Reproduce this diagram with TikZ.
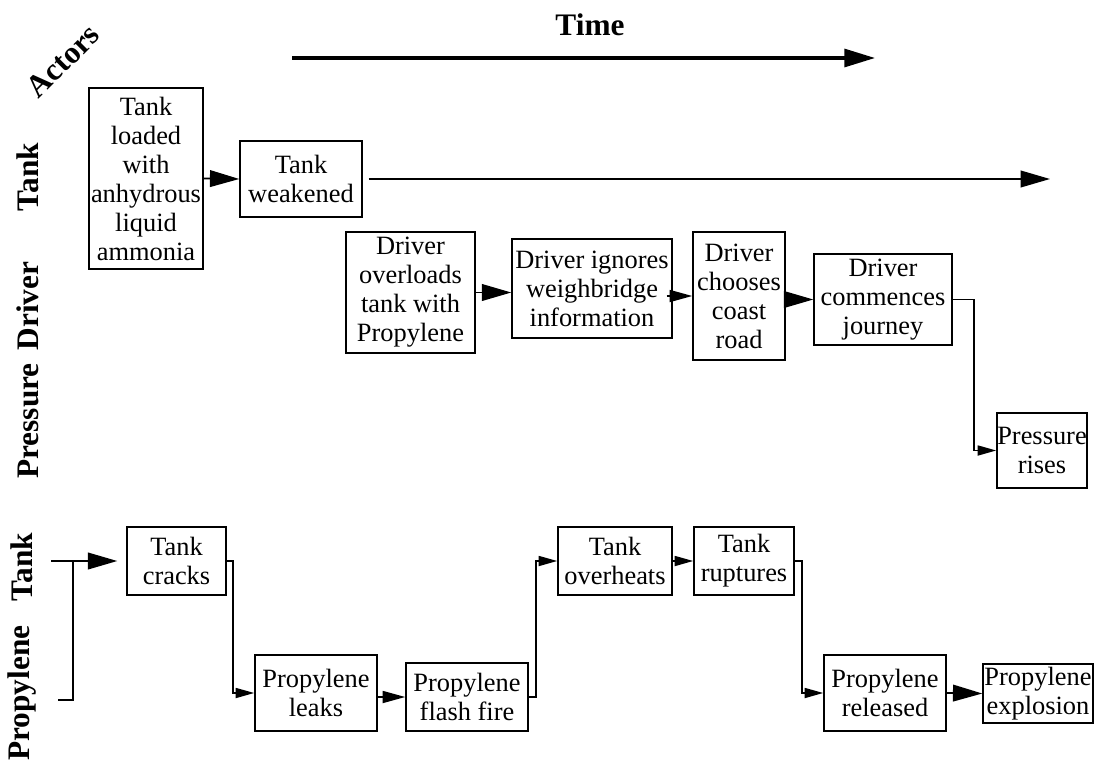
\documentclass[tikz,border=0pt]{standalone}
\usepackage{fontspec}
\setmainfont{Liberation Serif}
\usepackage{tikz}
\usetikzlibrary{arrows.meta,calc}

\begin{document}
\begin{tikzpicture}[x=0.75pt,y=-0.75pt,
    event/.style={draw, line width=1.1pt, inner sep=0pt, align=center,
        font=\fontsize{19.8}{21.75}\selectfont},
    actor/.style={font=\fontsize{23.5}{28}\selectfont\bfseries, inner sep=0pt},
    link/.style={line width=1.3pt},
    bigarrow/.style={link, -{Triangle[length=22pt,width=12.5pt]}},
    midarrow/.style={link, -{Triangle[length=17pt,width=9pt]}},
    smallarrow/.style={link, -{Triangle[length=14pt,width=7.5pt]}}]
    \useasboundingbox (0,0) rectangle (1099,767);

    % headings and actor names
    \node[actor] (time) at (590,25) {Time};
    \node[actor, rotate=45] (actors) at (63,61) {Actors};
    \node[actor, rotate=90] (tanka) at (28,177) {Tank};
    \node[actor, rotate=90] (driver) at (28,306) {Driver};
    \node[actor, rotate=90] (pressure) at (28,421) {Pressure};
    \node[actor, rotate=90] (tankb) at (22,567) {Tank};
    \node[actor, rotate=90] (propylene) at (22,693) {Propylene};

    \coordinate (tfrom) at (292,58);
    \coordinate (tto) at (875,58);
    \draw[line width=2.3pt, -{Triangle[length=23pt,width=13.5pt]}] (tfrom) -- (tto);

    % upper events
    \node[event, minimum width=85.5pt, minimum height=135.75pt] (load) at (146,178.5)
        {Tank\\loaded\\with\\anhydrous\\liquid\\ammonia};
    \node[event, minimum width=91.5pt, minimum height=57pt] (weak) at (301,179)
        {Tank\\weakened};
    \node[event, minimum width=96.75pt, minimum height=90.75pt] (overload) at (410.5,292.5)
        {Driver\\overloads\\tank with\\Propylene};
    \node[event, minimum width=120pt, minimum height=74.25pt] (ignore) at (592,288.5)
        {Driver ignores\\weighbridge\\information};
    \node[event, minimum width=69pt, minimum height=96pt] (coast) at (739,296)
        {Driver\\chooses\\coast\\road};
    \node[event, minimum width=103.5pt, minimum height=68.25pt] (journey) at (883,299.5)
        {Driver\\commences\\journey};
    \node[event, minimum width=67.5pt, minimum height=56.25pt] (rises) at (1042,450.5)
        {Pressure\\rises};

    \coordinate (tankend) at (1050,179);
    \draw[bigarrow] (load.east) -- (weak.west);
    \draw[bigarrow, shorten <=4.5pt] (weak.east) -- (tankend);
    \draw[bigarrow] (overload.east) -- (overload.east -| ignore.west);
    \draw[midarrow] ($(ignore.east |- coast.west)+(-6,0)$) -- (coast.west);
    \draw[bigarrow] (coast.east |- journey.west) -- (journey.west);
    \draw[smallarrow] (journey.east) -- ++(21,0) |- (rises.west);

    % lower events
    \node[event, minimum width=74.25pt, minimum height=51pt] (cracks) at (176.5,561)
        {Tank\\cracks};
    \node[event, minimum width=91.5pt, minimum height=57pt] (leaks) at (316,693)
        {Propylene\\leaks};
    \node[event, minimum width=91.5pt, minimum height=51pt] (flash) at (467,697)
        {Propylene\\flash fire};
    \node[event, minimum width=85.5pt, minimum height=51pt] (overheat) at (615,561)
        {Tank\\overheats};
    \node[event, minimum width=75pt, minimum height=51pt] (rupture) at (744,561)
        {Tank\\ruptures};
    \node[event, minimum width=91.5pt, minimum height=57pt] (released) at (885,693)
        {Propylene\\released};
    \node[event, minimum width=82.5pt, minimum height=44.25pt] (explosion) at (1038,693.5)
        {Propylene\\explosion};

    \coordinate (tstart) at (51,561);
    \coordinate (pstart) at (58,700);
    \coordinate (join) at (73,561);
    \draw[bigarrow, shorten >=6.75pt] (tstart) -- (cracks.west);
    \draw[link] (pstart) -| (join);
    \draw[smallarrow] (cracks.east) -- ++(6,0) |- (leaks.west);
    \draw[midarrow] (flash.west -| leaks.east) -- (flash.west);
    \draw[smallarrow] (flash.east) -- ++(7,0) |- (overheat.west);
    \draw[smallarrow] (overheat.east) -- (rupture.west);
    \draw[smallarrow] (rupture.east) -- ++(7,0) |- (released.west);
    \draw[bigarrow] (released.east) -- (explosion.west);
\end{tikzpicture}
\end{document}
